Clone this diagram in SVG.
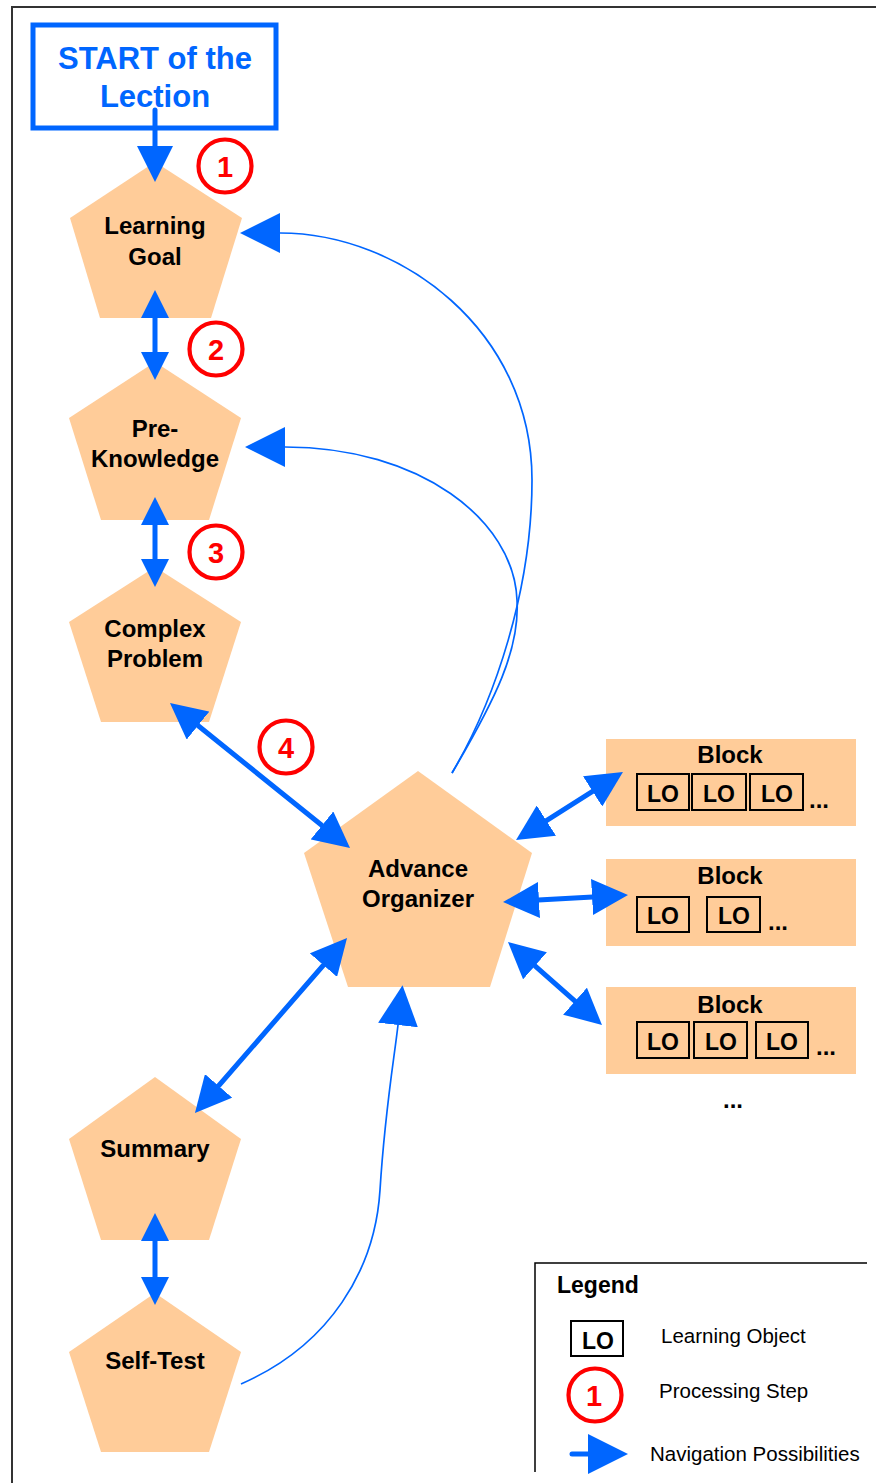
<svg xmlns="http://www.w3.org/2000/svg" width="876" height="1483" viewBox="0 0 876 1483">
<defs>
<style>
.pent{fill:#FFCC99}
.blk{fill:#FFCC99}
.lbl{font-family:"Liberation Sans",Arial,Helvetica,sans-serif;font-weight:bold;font-size:24px;text-anchor:middle;fill:#000}
.start{font-family:"Liberation Sans",Arial,Helvetica,sans-serif;font-weight:bold;font-size:31px;text-anchor:middle;fill:#0066FF}
.nav{stroke:#0066FF;stroke-width:5;fill:none;stroke-linecap:round}
.curve{stroke:#0066FF;stroke-width:1.7;fill:none}
.stepc{fill:none;stroke:#FF0000;stroke-width:4.2}
.stept{font-family:"Liberation Sans",Arial,Helvetica,sans-serif;font-weight:bold;font-size:29px;text-anchor:middle;fill:#FF0000}
.lo{fill:none;stroke:#000;stroke-width:2}
.lot{font-family:"Liberation Sans",Arial,Helvetica,sans-serif;font-weight:bold;font-size:23px;text-anchor:middle;fill:#000}
.leg{font-family:"Liberation Sans",Arial,Helvetica,sans-serif;font-size:20.5px;fill:#000}
</style>
<marker id="ah" markerUnits="userSpaceOnUse" viewBox="0 0 36 36" markerWidth="36" markerHeight="36" refX="28" refY="18" orient="auto-start-reverse"><path d="M0,0 L36,18 L0,36 Z" fill="#0066FF"/></marker>
<marker id="as" markerUnits="userSpaceOnUse" viewBox="0 0 28 28" markerWidth="28" markerHeight="28" refX="21" refY="14" orient="auto-start-reverse"><path d="M0,0 L28,14 L0,28 Z" fill="#0066FF"/></marker>
<marker id="ac" markerUnits="userSpaceOnUse" viewBox="0 0 40 40" markerWidth="40" markerHeight="40" refX="0" refY="20" orient="auto"><path d="M0,0 L40,20 L0,40 Z" fill="#0066FF"/></marker>
</defs>
<rect width="876" height="1483" fill="#fff"/>
<path d="M12,1483 V7 H876" fill="none" stroke="#333" stroke-width="2"/>

<g id="start">
<rect x="33" y="25" width="243" height="103" fill="#fff" stroke="#0066FF" stroke-width="5"/>
<text class="start" x="155" y="69">START of the</text>
<text class="start" x="155" y="107">Lection</text>
</g>

<g id="learning-goal">
<polygon class="pent" points="155,162 242,218 211,318 100,318 70,218"/>
<text class="lbl" x="155" y="234">Learning</text>
<text class="lbl" x="155" y="265">Goal</text>
</g>
<g id="pre-knowledge">
<polygon class="pent" points="155,362 241,418 209,520 101,520 69,418"/>
<text class="lbl" x="155" y="437">Pre-</text>
<text class="lbl" x="155" y="467">Knowledge</text>
</g>
<g id="complex-problem">
<polygon class="pent" points="155,567 241,622 209,722 101,722 69,622"/>
<text class="lbl" x="155" y="637">Complex</text>
<text class="lbl" x="155" y="667">Problem</text>
</g>
<g id="advance-organizer">
<polygon class="pent" points="418,771 532,853 490,987 348,987 304,853"/>
<text class="lbl" x="418" y="877">Advance</text>
<text class="lbl" x="418" y="907">Organizer</text>
</g>
<g id="summary">
<polygon class="pent" points="155,1077 241,1139 209,1240 101,1240 69,1139"/>
<text class="lbl" x="155" y="1157">Summary</text>
</g>
<g id="self-test">
<polygon class="pent" points="155,1293 241,1352 209,1452 101,1452 69,1352"/>
<text class="lbl" x="155" y="1369">Self-Test</text>
</g>

<g id="block1">
<rect class="blk" x="606" y="739" width="250" height="87"/>
<text class="lbl" x="730" y="763">Block</text>
<rect class="lo" x="637" y="774" width="52" height="36"/>
<rect class="lo" x="692" y="774" width="54" height="36"/>
<rect class="lo" x="750" y="774" width="53" height="36"/>
<text class="lot" x="663" y="802">LO</text>
<text class="lot" x="719" y="802">LO</text>
<text class="lot" x="777" y="802">LO</text>
<text class="lbl" x="819" y="808">...</text>
</g>
<g id="block2">
<rect class="blk" x="606" y="859" width="250" height="87"/>
<text class="lbl" x="730" y="884">Block</text>
<rect class="lo" x="637" y="897" width="52" height="35"/>
<rect class="lo" x="707" y="897" width="53" height="35"/>
<text class="lot" x="663" y="924">LO</text>
<text class="lot" x="734" y="924">LO</text>
<text class="lbl" x="778" y="930">...</text>
</g>
<g id="block3">
<rect class="blk" x="606" y="987" width="250" height="87"/>
<text class="lbl" x="730" y="1013">Block</text>
<rect class="lo" x="637" y="1022" width="52" height="36"/>
<rect class="lo" x="694" y="1022" width="53" height="36"/>
<rect class="lo" x="756" y="1022" width="52" height="36"/>
<text class="lot" x="663" y="1050">LO</text>
<text class="lot" x="721" y="1050">LO</text>
<text class="lot" x="782" y="1050">LO</text>
<text class="lbl" x="826" y="1055">...</text>
</g>
<g id="more-blocks">
<text class="lbl" x="733" y="1108">...</text>
</g>

<g id="step1"><circle class="stepc" cx="225" cy="166" r="26.5"/><text class="stept" x="225" y="176.5">1</text></g>
<g id="step2"><circle class="stepc" cx="216" cy="349" r="26.5"/><text class="stept" x="216" y="359.5">2</text></g>
<g id="step3"><circle class="stepc" cx="216" cy="552" r="26.5"/><text class="stept" x="216" y="562.5">3</text></g>
<g id="step4"><circle class="stepc" cx="286" cy="747" r="26.5"/><text class="stept" x="286" y="757.5">4</text></g>

<g id="connectors">
<line class="nav" x1="155" y1="110" x2="155" y2="174" marker-end="url(#ah)"/>
<line class="nav" x1="155" y1="297" x2="155" y2="373" marker-start="url(#as)" marker-end="url(#as)"/>
<line class="nav" x1="155" y1="504" x2="155" y2="580" marker-start="url(#as)" marker-end="url(#as)"/>
<line class="nav" x1="155" y1="1220" x2="155" y2="1298" marker-start="url(#as)" marker-end="url(#as)"/>
<line class="nav" x1="176.2" y1="708" x2="343.8" y2="843" marker-start="url(#ah)" marker-end="url(#ah)"/>
<line class="nav" x1="341.8" y1="944" x2="200.2" y2="1107" marker-start="url(#ah)" marker-end="url(#ah)"/>
<line class="nav" x1="522.8" y1="835.7" x2="616.2" y2="776.3" marker-start="url(#ah)" marker-end="url(#ah)"/>
<line class="nav" x1="511" y1="901.6" x2="620" y2="895.4" marker-start="url(#ah)" marker-end="url(#ah)"/>
<line class="nav" x1="514" y1="947.3" x2="596" y2="1019.7" marker-start="url(#ah)" marker-end="url(#ah)"/>
<path class="curve" d="M452,773 C495,700 532,590 532,480 C532,330 400,233 280,233" marker-end="url(#ac)"/>
<path class="curve" d="M452,773 C495,700 520,650 517,600 C514,520 420,447 285,447" marker-end="url(#ac)"/>
<path class="curve" d="M241,1384 C330,1345 375,1270 380,1190 C385,1110 394,1060 398,1025" marker-end="url(#ac)"/>
</g>

<g id="legend">
<path d="M535,1472 V1263 H867" fill="none" stroke="#000" stroke-width="1.5"/>
<text class="lbl" x="557" y="1293" style="text-anchor:start;font-size:23px">Legend</text>
<rect class="lo" x="571" y="1321" width="52" height="35"/>
<text class="lot" x="598" y="1349">LO</text>
<text class="leg" x="661" y="1343">Learning Object</text>
<circle class="stepc" cx="595" cy="1395" r="26.5"/>
<text class="stept" x="594" y="1405.5">1</text>
<text class="leg" x="659" y="1398">Processing Step</text>
<line class="nav" x1="572" y1="1454" x2="588" y2="1454" marker-end="url(#ac)"/>
<text class="leg" x="650" y="1461">Navigation Possibilities</text>
</g>
</svg>
